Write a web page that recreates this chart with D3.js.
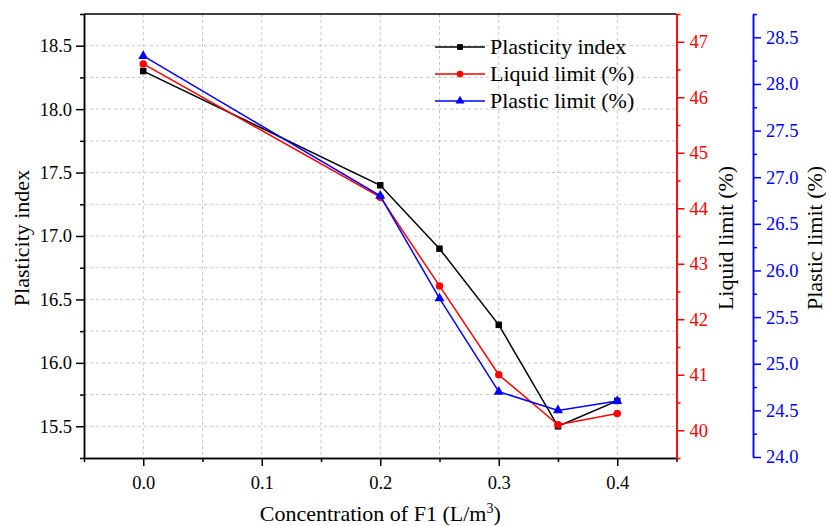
<!DOCTYPE html>
<html>
<head>
  <meta charset='utf-8'>
  <title>Atterberg limits</title>
  <script src='https://cdn.jsdelivr.net/npm/d3@7'></script>
  <style>
    body { margin: 0; background: #fff; }
  </style>
</head>
<body>
  <script>
    // data
    const concentration = [0, 0.2, 0.25, 0.3, 0.35, 0.4];
    const plasticityIndex = [18.3, 17.4, 16.9, 16.3, 15.5, 15.7];
    const liquidLimit = [46.6, 44.2, 42.6, 41.0, 40.1, 40.3];
    const plasticLimit = [28.3, 26.8, 25.7, 24.7, 24.5, 24.6];

    const xTicks = [0, 0.1, 0.2, 0.3, 0.4];
    const piTicks = [15.5, 16.0, 16.5, 17.0, 17.5, 18.0, 18.5];
    const llTicks = [40, 41, 42, 43, 44, 45, 46, 47];
    const plTicks = [24.0, 24.5, 25.0, 25.5, 26.0, 26.5, 27.0, 27.5, 28.0, 28.5];

    const FONT = '"Liberation Serif", "Times New Roman", serif';
    const width = 826, height = 526;
    const plotL = 84, plotR = 676.5, plotT = 14, plotB = 458;

    const svg = d3.select('body').append('svg')
      .attr('width', width)
      .attr('height', height)
      .style('font-family', FONT);

    const x = d3.scaleLinear().domain([-0.05, 0.45]).range([plotL, plotR]);
    const yPI = d3.scaleLinear().domain([15.25, 18.75]).range([plotB, plotT]);
    const yLL = d3.scaleLinear().domain([39.5, 47.5]).range([plotB, plotT]);
    const yPL = d3.scaleLinear().domain([24.0, 28.75]).range([457, plotT]);
    const blueX = 753;

    // grid
    const grid = svg.append('g')
      .attr('stroke', '#c8c8c8')
      .attr('stroke-width', 1)
      .attr('stroke-dasharray', '3,3');
    grid.selectAll('line.v')
      .data(d3.range(0, 9).map(i => i * 0.05))
      .join('line')
      .attr('x1', d => x(d)).attr('x2', d => x(d))
      .attr('y1', plotT).attr('y2', plotB);
    grid.selectAll('line.h')
      .data(d3.range(1, 14).map(i => 15.25 + i * 0.25))
      .join('line')
      .attr('x1', plotL).attr('x2', plotR)
      .attr('y1', d => yPI(d)).attr('y2', d => yPI(d));

    function styleAxis(g, color) {
      g.selectAll('g').attr('font-family', null);
      g.selectAll('.domain').attr('stroke', color).attr('stroke-width', 1.5);
      g.selectAll('.tick line').attr('stroke', color).attr('stroke-width', 1.5);
      g.selectAll('.tick text').attr('fill', color).attr('font-size', 18.5)
        .style('font-family', FONT);
    }

    // top border
    svg.append('line')
      .attr('x1', plotL).attr('x2', plotR).attr('y1', plotT).attr('y2', plotT)
      .attr('stroke', '#000').attr('stroke-width', 1.5);

    // x axis
    const gx = svg.append('g').attr('transform', `translate(0,${plotB})`);
    gx.append('g').call(d3.axisBottom(x).tickValues(d3.range(0, 5).map(i => -0.05 + i * 0.1).concat([0.45]))
      .tickSize(4).tickFormat('').tickSizeOuter(0));
    gx.append('g').call(d3.axisBottom(x).tickValues(xTicks).tickSize(8).tickSizeOuter(0)
      .tickPadding(10).tickFormat(d3.format('.1f')));
    styleAxis(gx, '#000');

    // left axis
    const gl = svg.append('g').attr('transform', `translate(${plotL},0)`);
    gl.append('g').call(d3.axisLeft(yPI).tickValues(d3.range(0, 8).map(i => 15.25 + i * 0.5))
      .tickSize(4).tickFormat('').tickSizeOuter(0));
    gl.append('g').call(d3.axisLeft(yPI).tickValues(piTicks).tickSize(8).tickSizeOuter(0)
      .tickPadding(4).tickFormat(d3.format('.1f')));
    styleAxis(gl, '#000');

    // liquid limit axis
    const gr = svg.append('g').attr('transform', `translate(${plotR},0)`);
    gr.append('g').call(d3.axisRight(yLL).tickValues(d3.range(0, 9).map(i => 39.5 + i))
      .tickSize(4).tickFormat('').tickSizeOuter(0));
    gr.append('g').call(d3.axisRight(yLL).tickValues(llTicks).tickSize(8).tickSizeOuter(0)
      .tickPadding(5).tickFormat(d3.format('d')));
    styleAxis(gr, '#ff0000');

    // plastic limit axis
    const gb = svg.append('g').attr('transform', `translate(${blueX},0)`);
    gb.append('g').call(d3.axisRight(yPL).tickValues(d3.range(0, 10).map(i => 24.25 + i * 0.5))
      .tickSize(4).tickFormat('').tickSizeOuter(0));
    gb.append('g').call(d3.axisRight(yPL).tickValues(plTicks).tickSize(8).tickSizeOuter(0)
      .tickPadding(5).tickFormat(d3.format('.1f')));
    styleAxis(gb, '#0000ff');

    // axis titles
    const xTitle = svg.append('text')
      .attr('x', x(0.2)).attr('y', 521)
      .attr('text-anchor', 'middle').attr('font-size', 22);
    xTitle.append('tspan').text('Concentration of F1 (L/m');
    xTitle.append('tspan').attr('font-size', 14).attr('dy', -8).text('3');
    xTitle.append('tspan').attr('dy', 8).text(')');

    const yTitle = (tx, label) => svg.append('text')
      .attr('transform', `translate(${tx},${(plotT + plotB) / 2 + 2}) rotate(-90)`)
      .attr('text-anchor', 'middle').attr('font-size', 22)
      .attr('fill', '#000').text(label);
    yTitle(29, 'Plasticity index');
    yTitle(733, 'Liquid limit (%)');
    yTitle(822, 'Plastic limit (%)');

    // series
    const series = [
      { name: 'Plasticity index', values: plasticityIndex, y: yPI, color: '#000', symbol: d3.symbolSquare, size: 42 },
      { name: 'Liquid limit (%)', values: liquidLimit, y: yLL, color: '#ff0000', symbol: d3.symbolCircle, size: 44 },
      { name: 'Plastic limit (%)', values: plasticLimit, y: yPL, color: '#0000ff', symbol: d3.symbolTriangle, size: 44 }
    ];

    series.forEach(s => {
      const pts = concentration.map((c, i) => [c, s.values[i]]);
      svg.append('path')
        .datum(pts)
        .attr('fill', 'none')
        .attr('stroke', s.color)
        .attr('stroke-width', 1.5)
        .attr('d', d3.line().x(d => x(d[0])).y(d => s.y(d[1])));
      svg.append('g').selectAll('path')
        .data(pts)
        .join('path')
        .attr('transform', d => `translate(${x(d[0])},${s.y(d[1])})`)
        .attr('d', d3.symbol(s.symbol, s.size))
        .attr('fill', s.color);
    });

    // legend
    const legend = svg.append('g').attr('transform', 'translate(435,47)');
    series.forEach((s, i) => {
      const row = legend.append('g').attr('transform', `translate(0,${i * 27})`);
      row.append('line').attr('x1', 0).attr('x2', 50)
        .attr('stroke', s.color).attr('stroke-width', 1.5);
      row.append('path').attr('transform', 'translate(25,0)')
        .attr('d', d3.symbol(s.symbol, s.size * 0.8)).attr('fill', s.color);
      row.append('text').attr('x', 55).attr('y', 7)
        .attr('font-size', 22).text(s.name);
    });
  </script>
</body>
</html>
